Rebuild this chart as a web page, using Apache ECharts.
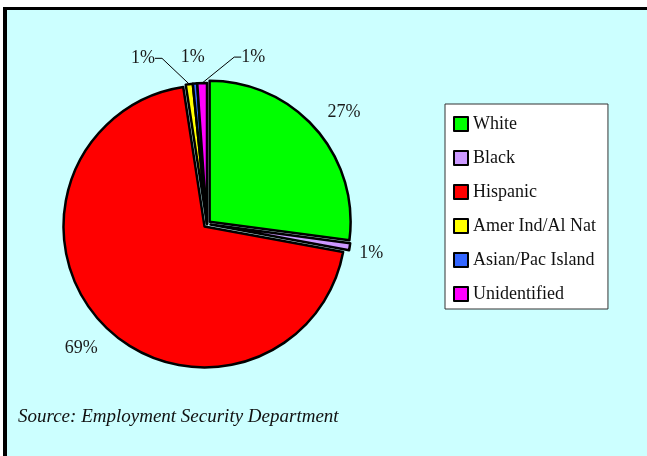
<!DOCTYPE html>
<html>
<head>
<meta charset="utf-8">
<script src="https://cdn.jsdelivr.net/npm/echarts@6/dist/echarts.min.js"></script>
<style>
  html, body { margin: 0; padding: 0; background: #ccffff; }
  #chart { width: 647px; height: 456px; }
</style>
</head>
<body>
<div id="chart"></div>
<script>
// data
const groups = ['White', 'Black', 'Hispanic', 'Amer Ind/Al Nat', 'Asian/Pac Island', 'Unidentified'];
const shares = [27.0, 0.8, 69.4, 0.8, 0.5, 1.1];
const shareLabels = ['27%', '1%', '69%', '1%', '1%', '1%'];
const sliceColors = ['#00ff00', '#cc99ff', '#ff0000', '#ffff00', '#3366ff', '#ff00ff'];
const exploded = [true, true, true, false, false, false];

// layout
const CX = 207, CY = 224, R = 141;
// exploded slices keep the pie's own label placement (tuned per slice)
const lineLen = [25, 40, 34, 10, 10, 10];
const lineLen2 = [-12, -35, -24, 7, 7, 7];
// the small, crowded slices get placed along their bisector and spread sideways
const labelDist = [0, 0, 0, 167, 167, 167];
const labelShift = [0, 0, 0, -43, 0, 52];
const withLeader = [false, false, false, true, false, true];

const total = shares.reduce((a, b) => a + b, 0);
function midAngle(i) {
  let acc = 0;
  for (let j = 0; j < i; j++) acc += shares[j];
  return (acc + shares[i] / 2) / total * Math.PI * 2;
}

const serif = '"Liberation Serif", "DejaVu Serif", serif';

const chart = echarts.init(document.getElementById('chart'), null, {renderer: 'canvas'});

const option = {
  animation: false,
  backgroundColor: '#ccffff',
  graphic: [
    {type: 'rect', shape: {x: 0, y: 0, width: 647, height: 7}, style: {fill: '#ffffff'}},
    {type: 'rect', shape: {x: 0, y: 7, width: 3, height: 449}, style: {fill: '#ffffff'}},
    {type: 'rect', shape: {x: 3, y: 7, width: 644, height: 3}, style: {fill: '#000000'}},
    {type: 'rect', shape: {x: 3, y: 7, width: 4, height: 449}, style: {fill: '#000000'}}
  ],
  title: {
    text: 'Source: Employment Security Department',
    left: 18,
    top: 407,
    padding: 0,
    textStyle: {
      fontFamily: serif,
      fontStyle: 'italic',
      fontWeight: 'normal',
      fontSize: 19,
      color: '#111'
    }
  },
  legend: {
    orient: 'vertical',
    left: 445,
    top: 104,
    data: groups,
    icon: 'rect',
    itemWidth: 14,
    itemHeight: 14,
    itemGap: 14,
    padding: [10, 12, 5, 8],
    backgroundColor: '#ffffff',
    borderColor: '#333',
    borderWidth: 1,
    borderRadius: 0,
    selectedMode: false,
    textStyle: {fontFamily: serif, fontSize: 18, lineHeight: 20, color: '#111'}
  },
  series: [{
    type: 'pie',
    center: [CX, CY],
    radius: R,
    startAngle: 90,
    clockwise: true,
    avoidLabelOverlap: false,
    selectedMode: 'multiple',
    selectedOffset: 3.5,
    emphasis: {disabled: true},
    itemStyle: {borderColor: '#000', borderWidth: 2.5},
    select: {itemStyle: {borderColor: '#000', borderWidth: 2.5}},
    label: {
      show: true,
      position: 'outside',
      alignTo: 'none',
      formatter: (p) => shareLabels[p.dataIndex],
      fontFamily: serif,
      fontSize: 18,
      color: '#1a1a1a'
    },
    labelLine: {show: false},
    labelLayout: function (p) {
      const i = p.dataIndex;
      if (exploded[i]) return {};
      const a = midAngle(i);
      return {
        x: CX + labelDist[i] * Math.sin(a) + labelShift[i],
        y: CY - labelDist[i] * Math.cos(a),
        align: 'center',
        verticalAlign: 'middle'
      };
    },
    data: groups.map((g, i) => ({
      name: g,
      value: shares[i],
      selected: exploded[i],
      itemStyle: {color: sliceColors[i]},
      labelLine: {
        show: withLeader[i],
        length: lineLen[i],
        length2: lineLen2[i],
        lineStyle: {color: '#000', width: 1}
      }
    }))
  }]
};

chart.setOption(option);
</script>
</body>
</html>
